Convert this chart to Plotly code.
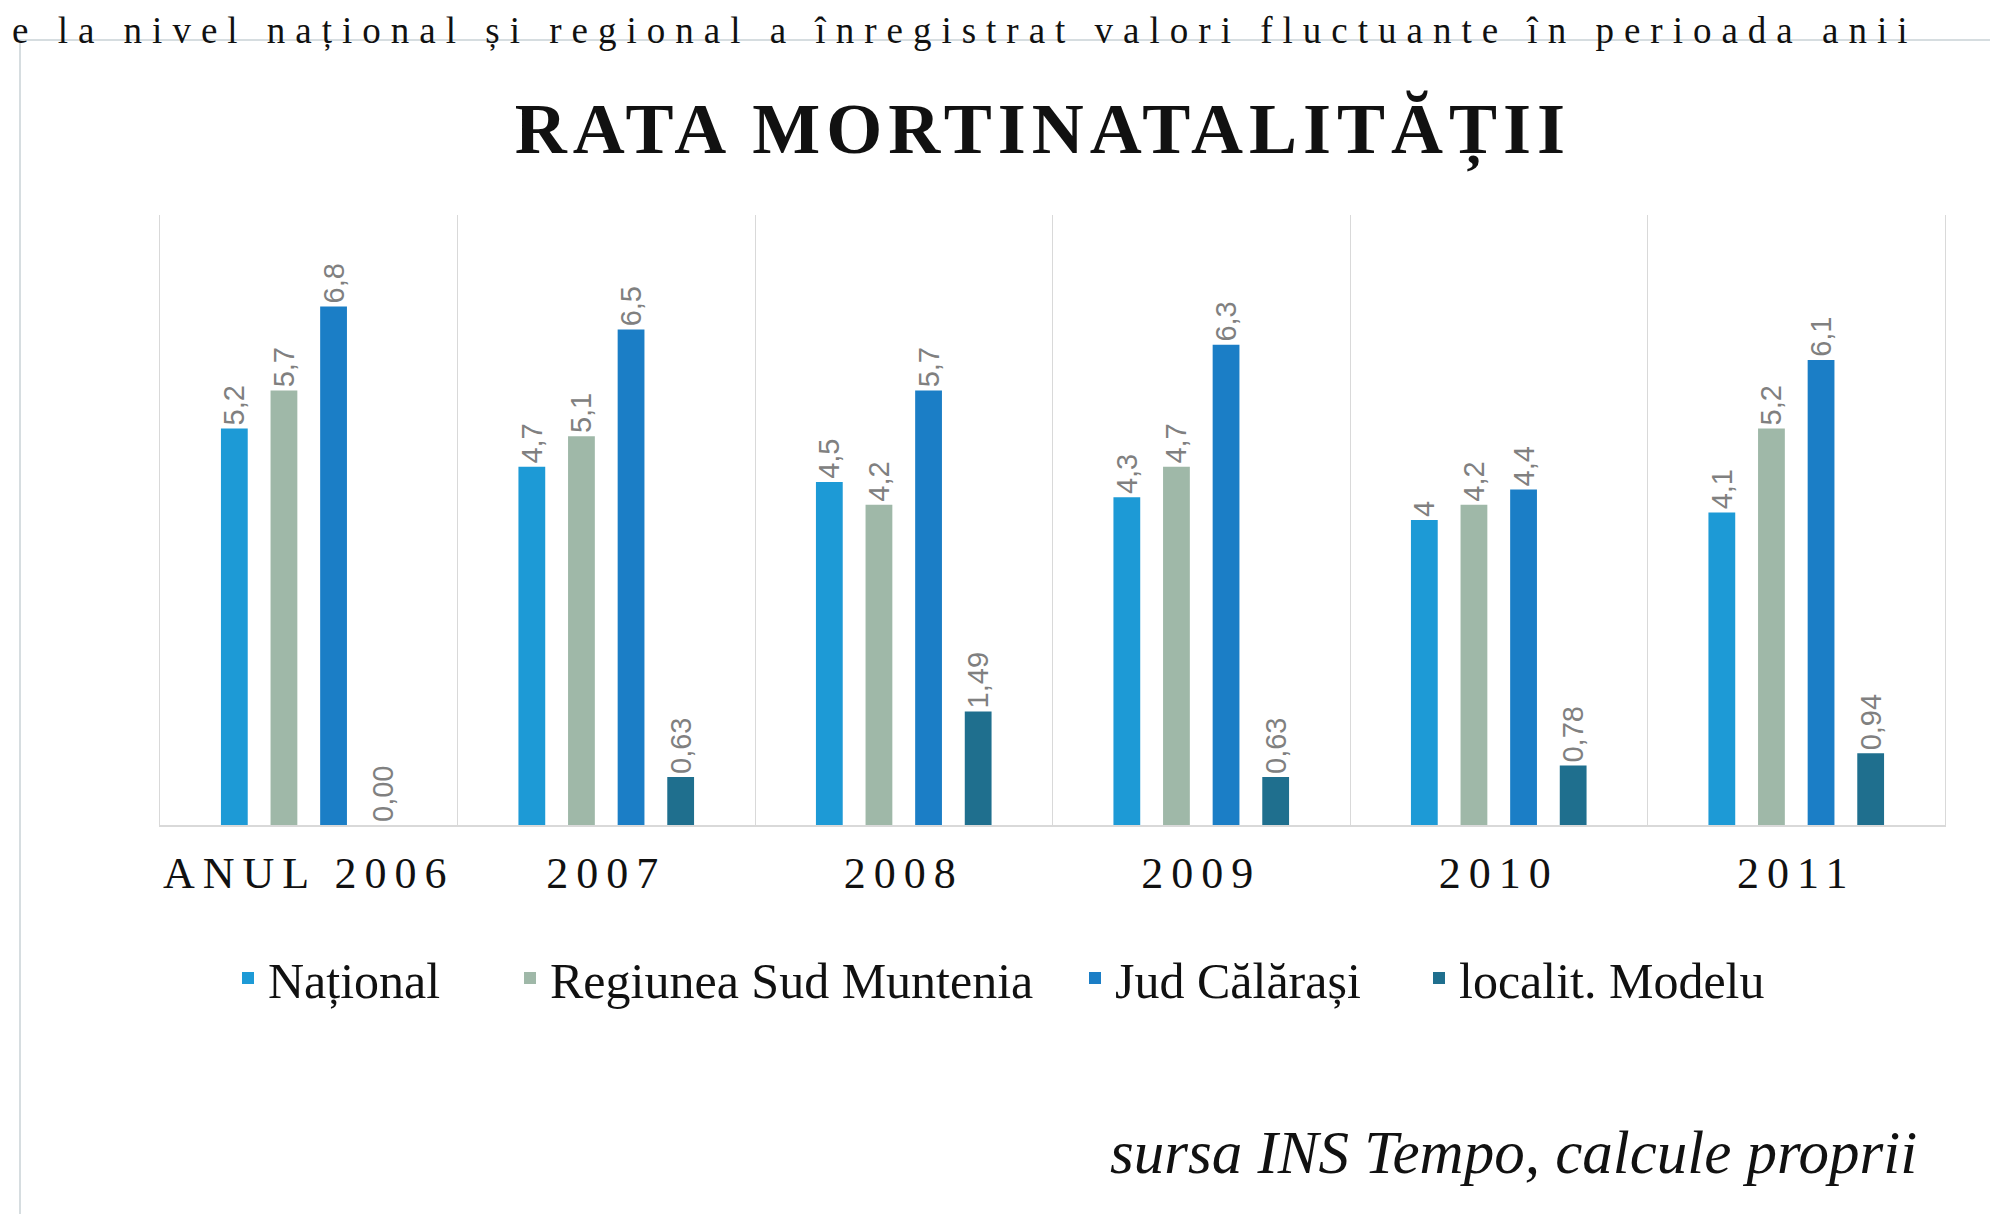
import plotly.graph_objects as go

# ---------------- data ----------------
categories = ["ANUL 2006", "2007", "2008", "2009", "2010", "2011"]
series_names = ["Național", "Regiunea Sud Muntenia", "Jud Călărași", "localit. Modelu"]
national = [5.2, 4.7, 4.5, 4.3, 4.0, 4.1]
regiunea = [5.7, 5.1, 4.2, 4.7, 4.2, 5.2]
judet = [6.8, 6.5, 5.7, 6.3, 4.4, 6.1]
modelu = [0.00, 0.63, 1.49, 0.63, 0.78, 0.94]
label_decimals = [None, None, None, 2]

colors = ["#1D9AD6", "#9FB8A8", "#1B7EC6", "#1F6F8E"]

title_text = "RATA MORTINATALITĂȚII"
source_text = "sursa INS Tempo, calcule proprii"
top_text = "e la nivel național și regional a înregistrat valori fluctuante în perioada anii"

# ---------------- geometry (pixels) ----------------
W, H = 1998, 1214
L, R, T, B = 152, 1937, 207, 817
pw, ph = R - L, B - T
legend_x_px = [220, 502, 1067, 1411]   # left edge of each legend entry
legend_y_px = 970


def px(x):
    return (x - L) / pw


def py(y):
    return (B - y) / ph


def fmt(v, dec):
    s = f"{v:.{dec}f}" if dec is not None else f"{v:g}"
    return s.replace(".", ",")


fig = go.Figure()
legend_ids = ["legend", "legend2", "legend3", "legend4"]
for name, vals, col, dec, lid in zip(series_names, [national, regiunea, judet, modelu],
                                     colors, label_decimals, legend_ids):
    fig.add_trace(go.Bar(
        x=categories, y=vals, name=name, legend=lid,
        marker=dict(color=col, line=dict(width=0)),
        text=[fmt(v, dec) for v in vals],
        textposition="outside", textangle=-90, constraintext="none",
        textfont=dict(family="Liberation Sans", size=29, color="#808080"),
        cliponaxis=False,
    ))

spaced = [f'<span style="letter-spacing:8px">{c}</span>' for c in categories]

legend_common = dict(
    orientation="h", xanchor="left", yanchor="middle",
    font=dict(family="Liberation Serif", size=50, color="#111111"),
    bgcolor="rgba(0,0,0,0)", itemsizing="constant", itemwidth=30,
)
legends = {}
for lid, lx in zip(legend_ids, legend_x_px):
    legends[lid] = dict(legend_common, x=px(lx), y=py(legend_y_px))

fig.update_layout(
    width=W, height=H,
    margin=dict(l=L, r=W - R, t=T, b=H - B, pad=0),
    paper_bgcolor="white", plot_bgcolor="white",
    barmode="group", bargap=0.333, bargroupgap=0.46,
    title=dict(
        text=f'<b><span style="letter-spacing:6px">{title_text}</span></b>',
        font=dict(family="Liberation Serif", size=72, color="#111111"),
        x=1035 / W, xref="container", xanchor="center",
        y=1 - 120 / H, yref="container", yanchor="middle",
    ),
    xaxis=dict(
        type="category", range=[-0.5, 5.5],
        tickmode="array", tickvals=categories, ticktext=spaced, tickangle=0,
        tickson="boundaries", ticks="", showgrid=True, gridcolor="#D9D9D9", gridwidth=1,
        showline=True, linecolor="#D9D9D9", linewidth=2,
        tickfont=dict(family="Liberation Serif", size=44, color="#111111"),
        ticklabelstandoff=8,
        fixedrange=True,
    ),
    yaxis=dict(
        range=[0, 8], showgrid=False, zeroline=False, showticklabels=False, ticks="",
        showline=True, linecolor="#D9D9D9", linewidth=1, mirror=True,
        fixedrange=True,
    ),
    showlegend=True,
    shapes=[
        dict(type="rect", xref="paper", yref="paper",
             x0=px(12), x1=px(2010), y0=py(1208), y1=py(32),
             line=dict(color="#D6DDE0", width=2), fillcolor="rgba(0,0,0,0)", layer="below"),
    ],
    annotations=[
        dict(text=f"<i>{source_text}</i>", xref="paper", yref="paper",
             x=px(1911), xanchor="right", y=py(1144), yanchor="middle",
             showarrow=False, font=dict(family="Liberation Serif", size=61, color="#111111")),
        dict(text=f'<span style="letter-spacing:10px">{top_text}</span>', xref="paper", yref="paper",
             x=px(2), xanchor="left", y=py(0), yanchor="top",
             showarrow=False, font=dict(family="Liberation Serif", size=37, color="#111111")),
    ],
    **legends,
)

fig.write_html("out.html")
